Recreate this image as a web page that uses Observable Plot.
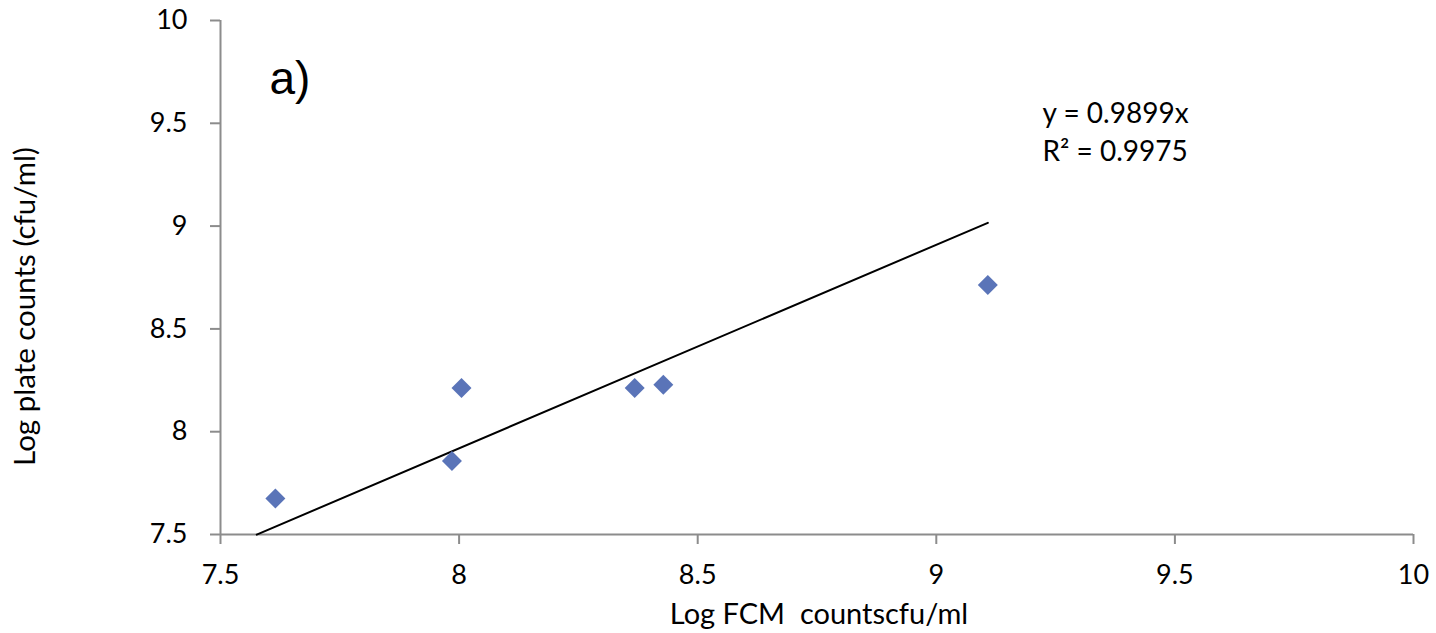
<!DOCTYPE html>
<html>
<head>
<meta charset="utf-8">
<script src="https://cdn.jsdelivr.net/npm/d3@7"></script>
<script src="https://cdn.jsdelivr.net/npm/@observablehq/plot@0.6"></script>
<style>
  html, body { margin: 0; padding: 0; background: #fff; }
  #chart svg { display: block; }
</style>
</head>
<body>
<div id="chart"></div>
<script>
// Data
const fcmLog   = [7.615, 7.985, 8.005, 8.368, 8.428, 9.108];
const plateLog = [7.675, 7.858, 8.212, 8.212, 8.228, 8.713];
const slope = 0.9899;
const trendX = [7.576, 9.108];
const xTicks = [7.5, 8, 8.5, 9, 9.5, 10];
const yTicks = [7.5, 8, 8.5, 9, 9.5, 10];
const equationText = "y = 0.9899x\nR² = 0.9975";
const panelLabel = "a)";
const xLabel = "Log FCM  countscfu/ml";
const yLabel = "Log plate counts (cfu/ml)";

const points = fcmLog.map((x, i) => ({x, y: plateLog[i]}));
const trend = trendX.map(x => ({x, y: slope * x}));

const axisColor = "#8c8c8c";
const font = "Lato, 'Open Sans', sans-serif";

const chart = Plot.plot({
  width: 1436,
  height: 633,
  marginLeft: 220,
  marginRight: 23,
  marginTop: 20,
  marginBottom: 99,
  style: {fontFamily: font, fontSize: "26px", color: "#000", background: "#fff"},
  x: {domain: [7.5, 10], ticks: xTicks},
  y: {domain: [7.5, 10], ticks: yTicks},
  marks: [
    Plot.axisX({ticks: xTicks, tickFormat: d => String(d), tickSize: 10, tickPadding: 20,
      stroke: axisColor, strokeWidth: 2, fill: "#000", fontSize: 27, label: null}),
    Plot.axisY({ticks: yTicks, tickFormat: d => String(d), tickSize: 10, tickPadding: 23,
      stroke: axisColor, strokeWidth: 2, fill: "#000", fontSize: 27, label: null}),
    Plot.ruleY([7.5], {stroke: axisColor, strokeWidth: 2}),
    Plot.ruleX([7.5], {stroke: axisColor, strokeWidth: 2}),
    Plot.line(trend, {x: "x", y: "y", stroke: "#000", strokeWidth: 2}),
    Plot.dot(points, {x: "x", y: "y", symbol: "diamond2", r: 9, fill: "#5a74b8", stroke: "none"}),
    Plot.text([equationText], {frameAnchor: "top-left", dx: 822, dy: 109, textAnchor: "start",
      lineAnchor: "middle", lineHeight: 1.36, fontSize: 28, fill: "#000", fontFamily: font}),
    Plot.text([panelLabel], {frameAnchor: "top-left", dx: 49, dy: 59, textAnchor: "start",
      lineAnchor: "middle", fontSize: 46, fill: "#000", fontFamily: "'Liberation Sans', Arial, sans-serif"}),
    Plot.text([xLabel], {frameAnchor: "bottom", dx: 2, dy: 80, textAnchor: "middle", lineAnchor: "middle",
      fontSize: 29, fill: "#000", fontFamily: font}),
    Plot.text([yLabel], {frameAnchor: "left", dx: -195, dy: 29, rotate: -90, textAnchor: "middle", lineAnchor: "middle",
      fontSize: 29.5, fill: "#000", fontFamily: font})
  ]
});

document.getElementById("chart").appendChild(chart);
</script>
</body>
</html>
